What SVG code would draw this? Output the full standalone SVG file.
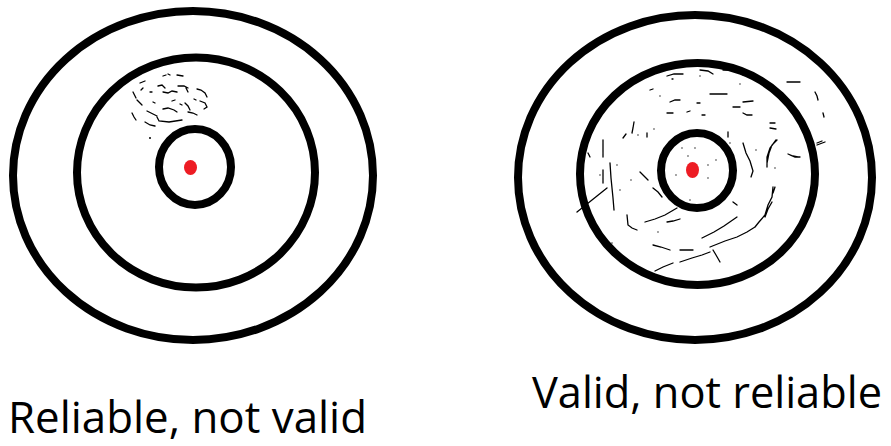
<svg xmlns="http://www.w3.org/2000/svg" width="891" height="446" viewBox="0 0 891 446">
<style>
.ring{fill:none;stroke:#000;stroke-width:8}
.dot{fill:#ed1c24}
.sc{fill:none;stroke:#000;stroke-width:1.3;stroke-linecap:round}
.lbl{font-family:"Open Sans","Noto Sans",sans-serif;fill:#000}
</style>
<rect width="891" height="446" fill="#fff"/>
<g id="target-left">
<ellipse class="ring" cx="193" cy="175.5" rx="180" ry="164.5"/>
<ellipse class="ring" cx="196" cy="172.5" rx="119" ry="115"/>
<ellipse class="ring" cx="195" cy="167" rx="36" ry="38"/>
<ellipse class="dot" cx="190.5" cy="167.5" rx="6.5" ry="7.5"/>
<g id="scatter-left">
<path class="sc" d="M163 76l3-1M168 74l2 1M177 75l6 1M140 83l5-2M133 92l2 4l1 2M137 100l3 3l2 2M158 86l4-1l3 3M163 92l5 1l4-2l5 1M178 86l6 0l4 2M186 88l2 4M197 89l4 1l4 3l2 4M200 101l5 2l2 4l-3 2M185 103l3 3l2 4M163 109l5-1l6 2l3 2M157 117l2 4l10 1l13 -2M145 122l5 3l5 1M132 113l2 4l2 3M188 112l5 1l4 2M147 111l4 2l6 3M141 90l2-2M150 92l2 0M172 101l3-1M180 104l2 1M153 102l2 1M194 99l2 1"/>
<circle cx="150" cy="138" r="1"/>
</g>
</g>
<g id="target-right">
<ellipse class="ring" cx="695" cy="177.5" rx="177" ry="162.5"/>
<ellipse class="ring" cx="697.5" cy="174" rx="117.5" ry="111"/>
<ellipse class="ring" cx="697" cy="170.5" rx="36" ry="37.5"/>
<ellipse class="dot" cx="692.5" cy="170" rx="6.5" ry="8"/>
<g id="scatter-right">
<path class="sc" d="M667 76l7-2l9 0M700 70l8 1l5 3M723 70l10 0M743 75l9-1M787 82l13 0M815 92l2 4l1 4M710 94l17 0M670 102l5-2l5 0M650 90l3-1M743 102l10-1M697 103l3 0M733 107l7 0M667 113l6 0M687 112l3-1M702 115l3 0M743 113l4 2l5 0M770 123l5 0M770 128l6 1M823 113l1 4M634 122l-1 6l-1 5M623 138l3-4M647 133l0 4M603 140l0 17M728 132l0 5M743 143l3 10l4 8l3 10l-2 6M776 140l-6 8l-3 9l0 10M790 155l5 2l5 0M817 143l5-2M610 163l1 15l2 20l1 12M603 170l0 13M640 172l4 4l4 4M577 212l10-8l10-8l10-8M653 188l5 4l4 5M627 215l1 10l4 3l5 2M645 222l10-3l10-4l12-7M667 222l6-1l7-2M733 202l4 3M773 187l-1 10l-4 8l-3 10l-6 7l-4 5M702 238l12-6l10-6l13-9M710 247l15-6l12-4l10-5l8-5M653 245l8 2l9 3M680 250l13 0M680 262l12-4l10-3l8-3M713 250l3 5l4 7M655 271l8-4l10-4M767 163l2-10l3-8l5-5M788 154l5 2l5 1M817 145l8-3M775 187l-2 6M765 217l3-8l4-7M588 153l2 4M603 140l0 13"/>
<path class="sc" d="M673 79l-1 0M600 175l0 0M617 165l0 0M631 180l0 0M730 143l0 0M716 160l0 0M695 148l0 0M688 156l0 0M708 165l0 0M708 178l0 0M676 175l0 0M682 148l0 0M690 200l0 0M658 232l0 0M612 243l0 0M775 168l0 0M756 150l0 0M620 190l0 0M638 135l0 0M654 129l0 0M740 84l0 0M660 96l0 0M700 76l0 0"/>
</g>
</g>
<g id="label-left">
<text class="lbl" x="8" y="433" font-size="43" textLength="359" lengthAdjust="spacingAndGlyphs">Reliable, not valid</text>
</g>
<g id="label-right">
<text class="lbl" x="532" y="408" font-size="44" textLength="350" lengthAdjust="spacingAndGlyphs">Valid, not reliable</text>
</g>
<g id="connectors"/>
</svg>
